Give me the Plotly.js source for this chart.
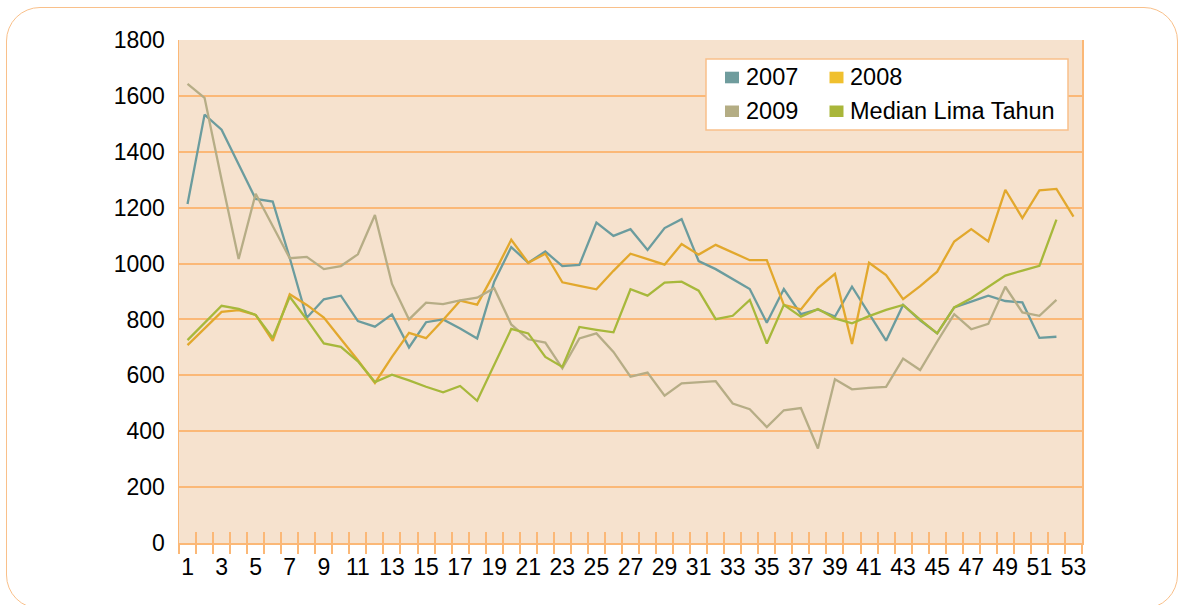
<!DOCTYPE html>
<html>
<head>
<meta charset="utf-8">
<script src="https://cdn.plot.ly/plotly-3.0.1.min.js"></script>
<style>
  html, body { margin: 0; padding: 0; background: #ffffff; overflow: hidden; }
  #wrap { position: relative; width: 1180px; height: 605px; }
  #chart { position: absolute; left: 0; top: 0; width: 1180px; height: 605px; }
  #frame { position: absolute; left: 6px; top: 7px; width: 1170px; height: 600px;
           border: 1.5px solid #f9c08a; border-radius: 34px; pointer-events: none; }
</style>
</head>
<body>
<div id="wrap">
  <div id="chart"></div>
  <div id="frame"></div>
</div>
<script>
// ---- data ----
const weeks = Array.from({length: 53}, (_, i) => i + 1);
const seriesNames = ['2007', '2008', '2009', 'Median Lima Tahun'];

const y2007 = [1213,1533,1479,1354,1231,1222,1020,806,872,885,794,774,818,700,790,800,768,732,935,1059,
               1003,1043,991,995,1147,1099,1123,1049,1127,1159,1009,980,946,909,788,909,819,836,810,917,
               821,724,852,797,750,843,864,885,866,861,734,738];
const y2008 = [708,767,827,833,816,723,890,852,807,730,654,573,666,752,733,798,867,853,965,1085,
               1003,1035,933,920,908,974,1035,1016,996,1070,1032,1067,1040,1012,1012,852,836,912,963,712,
               1003,959,873,919,971,1079,1123,1079,1264,1163,1262,1267,1168];
const y2009 = [1643,1593,1300,1016,1250,1136,1019,1024,980,991,1033,1174,927,800,860,855,868,878,912,782,
               729,717,625,732,750,684,595,610,527,571,574,579,499,479,415,475,483,338,586,550,
               555,559,660,619,721,819,765,784,917,825,813,870];
const yMedian = [726,788,849,838,816,734,881,800,714,702,650,576,602,582,559,539,562,509,638,766,
                 750,666,630,773,763,754,908,885,932,935,903,801,813,870,714,852,810,837,804,786,
                 812,834,852,799,750,843,876,917,957,975,992,1157];

const yTicks = [0, 200, 400, 600, 800, 1000, 1200, 1400, 1600, 1800];
const xLabelWeeks = weeks.filter(w => w % 2 === 1);
const boundaries = weeks.map(w => w + 0.5);

// ---- styling ----
const lineColors = ['#6b9c9e', '#e2a82d', '#b6ad86', '#a7b83b'];
const swatchColors = ['#6f9c9d', '#f0c02e', '#b4ad84', '#a9b63a'];
const orange = '#fbb877';
const FONT = 'Liberation Sans, Arial, sans-serif';

const W = 1180, H = 605;
const M = {l: 179, r: 98, t: 40, b: 62};
const PW = W - M.l - M.r, PH = H - M.t - M.b;
const px = x => (x - M.l) / PW;
const py = y => (H - M.b - y) / PH;

const allY = [y2007, y2008, y2009, yMedian];
const traces = allY.map((vals, i) => ({
  type: 'scatter',
  mode: 'lines',
  name: seriesNames[i],
  x: weeks.slice(0, vals.length),
  y: vals,
  line: {color: lineColors[i], width: 2.3},
  showlegend: false,
  hoverinfo: 'x+y+name'
}));
// empty helper trace so the overlaid tick axis is drawn
traces.unshift({
  type: 'scatter', mode: 'lines', x: weeks, y: weeks.map(() => null),
  xaxis: 'x2', yaxis: 'y', showlegend: false, hoverinfo: 'skip'
});

// legend (manual, square swatches in two columns)
const legCols = [725, 829.5];
const legTextX = [743.5, 848];
const legRowsSw = [[71.7, 83.3], [105.5, 117]];
const legRowsTxt = [77, 111];
const shapes = [{
  type: 'rect', xref: 'paper', yref: 'paper',
  x0: px(706), x1: px(1068), y0: py(130), y1: py(59),
  fillcolor: '#ffffff', line: {color: '#f9c08a', width: 1.5}, layer: 'above'
}];
const annotations = [];
seriesNames.forEach((nm, i) => {
  const col = i % 2, row = Math.floor(i / 2);
  shapes.push({
    type: 'rect', xref: 'paper', yref: 'paper',
    x0: px(legCols[col]), x1: px(legCols[col] + 14),
    y0: py(legRowsSw[row][1]), y1: py(legRowsSw[row][0]),
    fillcolor: swatchColors[i], line: {width: 0}, layer: 'above'
  });
  annotations.push({
    xref: 'paper', yref: 'paper', x: px(legTextX[col]), y: py(legRowsTxt[row]),
    xanchor: 'left', yanchor: 'middle', showarrow: false, text: nm,
    font: {family: FONT, size: 23.5, color: '#000000'}
  });
});

const layout = {
  width: W, height: H,
  margin: M,
  paper_bgcolor: 'rgba(0,0,0,0)',
  plot_bgcolor: '#f6e2ce',
  font: {family: FONT, size: 23, color: '#000000'},
  showlegend: false,
  xaxis: {
    range: [0.5, 53.5],
    tickmode: 'array', tickvals: xLabelWeeks, ticktext: xLabelWeeks.map(String),
    ticks: '', ticklabelstandoff: 3,
    minor: {tickmode: 'linear', tick0: 0.5, dtick: 1, ticks: 'outside',
            ticklen: 9, tickwidth: 2, tickcolor: orange, showgrid: false},
    tickfont: {family: FONT, size: 23, color: '#000000'},
    showgrid: false, zeroline: false,
    showline: true, linecolor: orange, linewidth: 1.5,
    fixedrange: true
  },
  xaxis2: {
    overlaying: 'x', anchor: 'y', side: 'bottom',
    range: [0.5, 53.5],
    tickmode: 'array', tickvals: boundaries, ticktext: boundaries.map(() => ''),
    ticks: 'inside', ticklen: 11, tickwidth: 2, tickcolor: orange,
    showgrid: false, zeroline: false, showline: false, fixedrange: true
  },
  yaxis: {
    range: [0, 1800],
    tickmode: 'array', tickvals: yTicks, ticktext: yTicks.map(String),
    ticks: '', ticklabelstandoff: 8,
    showgrid: true, gridcolor: orange, gridwidth: 2,
    zeroline: false,
    showline: true, linecolor: orange, linewidth: 1.5, mirror: true,
    tickfont: {family: FONT, size: 23, color: '#000000'},
    fixedrange: true
  },
  shapes: shapes,
  annotations: annotations
};

Plotly.newPlot('chart', traces, layout, {displayModeBar: false, staticPlot: true});
</script>
</body>
</html>
